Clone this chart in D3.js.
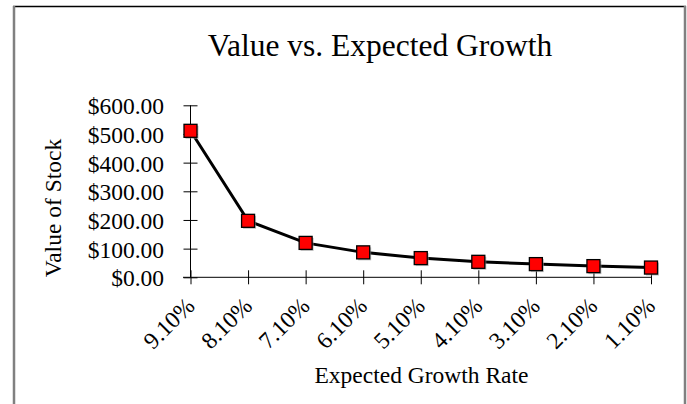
<!DOCTYPE html>
<html><head><meta charset="utf-8">
<script src="https://cdn.jsdelivr.net/npm/d3@7"></script>
<style>
html,body{margin:0;padding:0;background:#fff;}
text{font-family:"Liberation Serif","Times New Roman",serif;fill:#000;}
</style></head>
<body>
<svg id="c" width="687" height="404"></svg>
<script>
const categories = ["9.10%","8.10%","7.10%","6.10%","5.10%","4.10%","3.10%","2.10%","1.10%"];
const values = [511, 197, 120, 87, 67, 54, 46, 39, 34];
const yTicks = [0,100,200,300,400,500,600];
const titleText = "Value vs. Expected Growth";
const xTitle = "Expected Growth Rate";
const yTitle = "Value of Stock";

const svg = d3.select("#c");
svg.append("rect").attr("width",687).attr("height",404).attr("fill","#fff");

// frame
svg.append("line").attr("x1",13).attr("x2",686).attr("y1",6.5).attr("y2",6.5).attr("stroke","#000").attr("stroke-width",1.5);
svg.append("line").attr("x1",14).attr("x2",14).attr("y1",6).attr("y2",404).attr("stroke","#808080").attr("stroke-width",2.5);
svg.append("line").attr("x1",685).attr("x2",685).attr("y1",6).attr("y2",404).attr("stroke","#808080").attr("stroke-width",2.5);

const x = d3.scalePoint().domain(categories).range([190.5, 651]);
const y = d3.scaleLinear().domain([0,600]).range([277.3,105.3]);

// y axis
const ya = svg.append("g").attr("transform","translate(190.5,0)")
  .call(d3.axisLeft(y).tickValues(yTicks).tickSize(7).tickPadding(19.5)
    .tickFormat(d => "$" + d3.format(".2f")(d)));
ya.select(".domain").attr("stroke","#000").attr("d","M0," + y(600) + "V" + y(0));
ya.selectAll(".tick line").attr("x1",-7).attr("x2",7).attr("stroke","#000");
ya.selectAll(".tick text").attr("font-size","23.5px").attr("dy","0.36em")
  .style("font-family",'"Liberation Serif",serif');

// x axis
const xa = svg.append("g").attr("transform","translate(0,277.3)")
  .call(d3.axisBottom(x).tickSize(7).tickSizeOuter(0));
xa.select(".domain").attr("stroke","#000").attr("d","M183,0H651");
xa.selectAll(".tick line").attr("y1",-7).attr("y2",7).attr("stroke","#000");
xa.selectAll(".tick text").attr("font-size","23.5px")
  .style("font-family",'"Liberation Serif",serif')
  .attr("text-anchor","end").attr("y",0).attr("dy",0)
  .attr("transform","translate(5,30) rotate(-45)");

// line
svg.append("path").datum(values)
  .attr("fill","none").attr("stroke","#000").attr("stroke-width",3)
  .attr("d", d3.line().x((d,i)=>x(categories[i])).y(d=>y(d)));

// markers
const s = 13;
svg.selectAll("rect.sh").data(values).enter().append("rect")
  .attr("x",(d,i)=>x(categories[i])-s/2+1.5).attr("y",d=>y(d)-s/2+1.5)
  .attr("width",s).attr("height",s).attr("fill","#9a9a9a").attr("opacity",0.6);
svg.selectAll("rect.mk").data(values).enter().append("rect")
  .attr("x",(d,i)=>x(categories[i])-s/2).attr("y",d=>y(d)-s/2)
  .attr("width",s).attr("height",s).attr("fill","#ff0000").attr("stroke","#000").attr("stroke-width",1.3);

// titles
svg.append("text").attr("x",380).attr("y",56).attr("text-anchor","middle")
  .attr("font-size","31.5px").text(titleText);
svg.append("text").attr("x",421.5).attr("y",383).attr("text-anchor","middle")
  .attr("font-size","23.5px").text(xTitle);
svg.append("text").attr("transform","translate(61,208) rotate(-90)").attr("text-anchor","middle")
  .attr("font-size","23.5px").text(yTitle);
</script>
</body></html>
